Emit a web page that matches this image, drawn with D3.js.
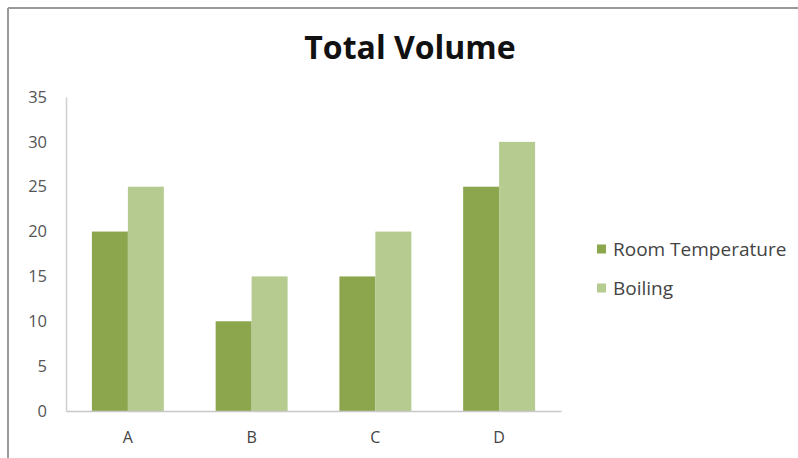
<!DOCTYPE html>
<html><head><meta charset="utf-8">
<script src="https://cdn.jsdelivr.net/npm/d3@7"></script>
<style>body{margin:0;background:#fff}svg{display:block}</style>
</head><body>
<script>
const categories = ["A","B","C","D"];
const seriesNames = ["Room Temperature","Boiling"];
const roomTemp = [20,10,15,25];
const boiling = [25,15,20,30];
const yTicks = [0,5,10,15,20,25,30,35];
const colors = ["#8ca64e","#b5cb8f"];

const W=798,H=458;
const svg=d3.select("body").append("svg").attr("width",W).attr("height",H);
svg.append("rect").attr("width",W).attr("height",H).attr("fill","#fff");
// frame
svg.append("line").attr("x1",8).attr("x2",W).attr("y1",8).attr("y2",8).attr("stroke","#9a9a9a").attr("stroke-width",2);
svg.append("line").attr("x1",8).attr("x2",8).attr("y1",8).attr("y2",H).attr("stroke","#9a9a9a").attr("stroke-width",2);

const x0=d3.scaleBand().domain(categories).range([66,561]).paddingInner(0).paddingOuter(0);
const x1=d3.scaleBand().domain(seriesNames).range([0,x0.bandwidth()]).paddingInner(0).paddingOuter(0.72);
const y=d3.scaleLinear().domain([0,35]).range([411,97]);

const data=categories.map((c,i)=>({cat:c,vals:[roomTemp[i],boiling[i]]}));
const g=svg.append("g");
g.selectAll("g.cat").data(data).join("g").attr("transform",d=>`translate(${x0(d.cat)},0)`)
 .selectAll("rect").data(d=>d.vals.map((v,j)=>({v,s:seriesNames[j],j})))
 .join("rect").attr("x",d=>x1(d.s)).attr("width",x1.bandwidth())
 .attr("y",d=>y(d.v)).attr("height",d=>y(0)-y(d.v)).attr("fill",d=>colors[d.j]);

// axes
const yAxis=d3.axisLeft(y).tickValues(yTicks).tickSize(0).tickPadding(19);
const ya=svg.append("g").attr("transform","translate(66,0)").call(yAxis);
ya.select(".domain").attr("stroke","#d0d0d0").attr("stroke-width",1.5);
ya.selectAll("text").attr("font-family","'Open Sans',sans-serif").attr("font-size",16.5).attr("fill","#555");

const xAxis=d3.axisBottom(x0).tickSize(0).tickPadding(21);
const xa=svg.append("g").attr("transform","translate(0,411)").call(xAxis);
xa.select(".domain").attr("stroke","#c8c8c8").attr("stroke-width",1.5);
xa.selectAll("text").attr("font-family","'Open Sans',sans-serif").attr("font-size",16).attr("fill","#444");

// title
svg.append("text").attr("x",410).attr("y",59).attr("text-anchor","middle")
 .attr("font-family","'Open Sans',sans-serif").attr("font-weight","bold").attr("font-size",32).attr("fill","#111")
 .text("Total Volume");

// legend
const lg=svg.append("g").selectAll("g").data(seriesNames).join("g")
 .attr("transform",(d,i)=>`translate(597,${249+i*39})`);
lg.append("rect").attr("x",0).attr("y",-4.5).attr("width",9).attr("height",9).attr("fill",(d,i)=>colors[i]);
lg.append("text").attr("x",16).attr("y",0).attr("dy","0.35em")
 .attr("font-family","'Open Sans',sans-serif").attr("font-size",19).attr("fill","#444").text(d=>d);
</script>
</body></html>
